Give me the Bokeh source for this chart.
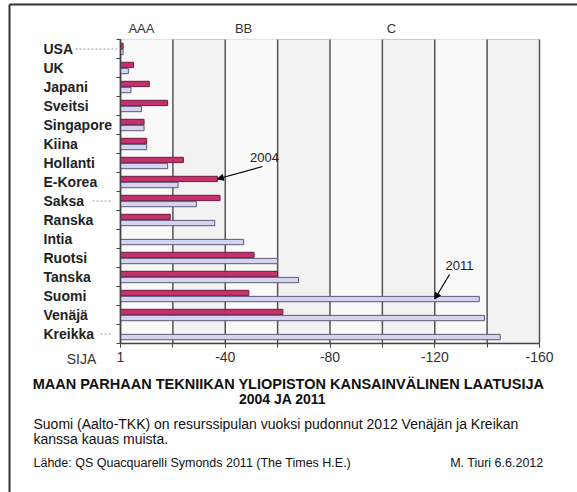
from bokeh.plotting import figure
from bokeh.models import Range1d, FixedTicker, ColumnDataSource, Arrow, NormalHead
from bokeh.core.properties import value
from bokeh.embed import file_html
from bokeh.resources import INLINE

countries = ["USA", "UK", "Japani", "Sveitsi", "Singapore", "Kiina", "Hollanti",
             "E-Korea", "Saksa", "Ranska", "Intia", "Ruotsi", "Tanska", "Suomi",
             "Venäjä", "Kreikka"]
rank_2004 = [1, 5, 11, 18, 9, 10, 24, 37, 38, 19, None, 51, 60, 49, 62, None]
rank_2011 = [1, 3, 4, 8, 9, 10, 18, 22, 29, 36, 47, 60, 68, 137, 139, 145]
x_ticks = [0, -40, -80, -120, -160]
x_tick_labels = ["1", "-40", "-80", "-120", "-160"]
grid_ticks = [0, -20, -40, -60, -80, -100, -120, -140, -160]
class_labels = ["AAA", "BB", "C"]
class_pos = [-8, -47, -103.5]

W, H = 577, 492
FL, FR, FT, FB = 120, 539, 39, 343   # plot-area edges in page pixels
XMAX = 160
NROW = len(countries)
FONT = value("Liberation Sans")

def sx(px):
    return -(px - FL) * XMAX / (FR - FL)

def sy(py):
    return NROW + (py - FB) * NROW / (FB - FT)

p = figure(width=W, height=H, output_backend="svg", toolbar_location=None,
           x_range=Range1d(sx(0), sx(W)), y_range=Range1d(sy(H), sy(0)))
p.min_border = 0
p.min_border_left = p.min_border_right = p.min_border_top = p.min_border_bottom = 0
p.background_fill_color = "white"
p.border_fill_color = "white"
p.outline_line_color = None
p.grid.visible = False

# page border (top and left)
p.segment(x0=[sx(9), sx(9)], y0=[sy(4), sy(4)], x1=[sx(W), sx(9)], y1=[sy(4), sy(H)],
          line_color="#333333", line_width=2)

# plot area background with bands
p.quad(left=[0], right=[-XMAX], top=[0], bottom=[NROW], fill_color="#f2f2f2",
       line_color="#cccccc", line_width=1)
p.quad(left=grid_ticks[0:-1:2], right=grid_ticks[1::2], top=0, bottom=NROW,
       fill_color="#f9f9f9", line_color=None)
p.segment(x0=grid_ticks, x1=grid_ticks, y0=0, y1=NROW, line_color="#555555",
          line_width=1.5)

# bars
idx04 = [i for i, v in enumerate(rank_2004) if v is not None]
src04 = ColumnDataSource(dict(y=[i + 0.5 - 0.16 for i in idx04],
                              right=[-rank_2004[i] for i in idx04]))
src11 = ColumnDataSource(dict(y=[i + 0.5 + 0.16 for i in range(NROW)],
                              right=[-v for v in rank_2011]))
p.hbar(y="y", left=0, right="right", height=0.28, source=src04,
       fill_color="#c4306c", line_color="#6e1a3e", line_width=1)
p.hbar(y="y", left=0, right="right", height=0.28, source=src11,
       fill_color="#d4d4f2", line_color="#5a5a72", line_width=1)

# axes (fixed inside the canvas)
xax = p.xaxis[0]
xax.fixed_location = NROW
xax.bounds = (-XMAX, 0)
xax.ticker = FixedTicker(ticks=x_ticks, minor_ticks=grid_ticks)
xax.major_label_overrides = {t: l for t, l in zip(x_ticks, x_tick_labels)}
xax.major_label_text_font = "Liberation Sans"
xax.major_label_text_font_size = "14px"
xax.major_label_text_color = "#333333"
xax.major_label_standoff = 4
xax.major_tick_out = 4
xax.major_tick_in = 0
xax.minor_tick_out = 4
xax.minor_tick_in = 0
xax.axis_line_color = "#444444"
xax.axis_line_width = 1.5
xax.major_tick_line_color = "#444444"
xax.minor_tick_line_color = "#444444"

yax = p.yaxis[0]
yax.fixed_location = 0
yax.bounds = (0, NROW)
yax.ticker = FixedTicker(ticks=[], minor_ticks=list(range(0, NROW + 1)))
yax.minor_tick_out = 4
yax.minor_tick_in = 0
yax.major_tick_line_color = None
yax.axis_line_color = "#444444"
yax.axis_line_width = 1.5
yax.minor_tick_line_color = "#444444"

# category labels (left aligned)
p.text(x=[sx(43)] * NROW, y=[i + 0.5 for i in range(NROW)], text=countries,
       text_align="left", text_baseline="middle", text_font=FONT,
       text_font_style="bold", text_font_size="14px", text_color="#222222")

# leader dashes
p.segment(x0=[sx(75), sx(92), sx(100)], x1=[sx(117), sx(112), sx(112)],
          y0=[0.5, 8.5, 15.5], y1=[0.5, 8.5, 15.5],
          line_color="#999999", line_width=1, line_dash="2 2")

# class labels above
p.text(x=class_pos, y=[sy(27.5)] * len(class_pos), text=class_labels,
       text_align="center", text_baseline="middle", text_font=FONT,
       text_font_size="13px", text_color="#333333")

p.text(x=[sx(81)], y=[sy(358)], text=["SIJA"], text_align="center",
       text_baseline="middle", text_font=FONT, text_font_size="14px",
       text_color="#333333")

# year annotations with arrows
i_kor = countries.index("E-Korea")
i_suo = countries.index("Suomi")
p.text(x=[sx(264), sx(459)], y=[sy(157), sy(265)], text=["2004", "2011"],
       text_align="center", text_baseline="middle", text_font=FONT,
       text_font_size="13px", text_color="#222222")
p.add_layout(Arrow(end=NormalHead(size=6, fill_color="black", line_color="black"),
                   x_start=sx(262), y_start=sy(166),
                   x_end=-rank_2004[i_kor], y_end=i_kor + 0.5 - 0.16,
                   line_color="black", line_width=1.2))
p.add_layout(Arrow(end=NormalHead(size=6, fill_color="black", line_color="black"),
                   x_start=sx(449), y_start=sy(274),
                   x_end=-120, y_end=i_suo + 0.5 + 0.16,
                   line_color="black", line_width=1.2))

# texts below
texts = [
    ("MAAN PARHAAN TEKNIIKAN YLIOPISTON KANSAINVÄLINEN LAATUSIJA", 288, 383, "center", "bold", "14.5px"),
    ("2004 JA 2011", 282, 398, "center", "bold", "14px"),
    ("Suomi (Aalto-TKK) on resurssipulan vuoksi pudonnut  2012 Venäjän ja Kreikan", 33, 423, "left", "normal", "14px"),
    ("kanssa kauas muista.", 33, 438, "left", "normal", "14px"),
    ("Lähde: QS Quacquarelli Symonds 2011 (The Times H.E.)", 33, 462, "left", "normal", "12.5px"),
    ("M. Tiuri 6.6.2012", 543, 462, "right", "normal", "12.5px"),
]
for t, x, y, al, st, fs in texts:
    p.text(x=[sx(x)], y=[sy(y)], text=[t], text_align=al, text_baseline="middle",
           text_font=FONT, text_font_style=st, text_font_size=fs,
           text_color="#111111")

open("out.html", "w").write(file_html(p, INLINE))
